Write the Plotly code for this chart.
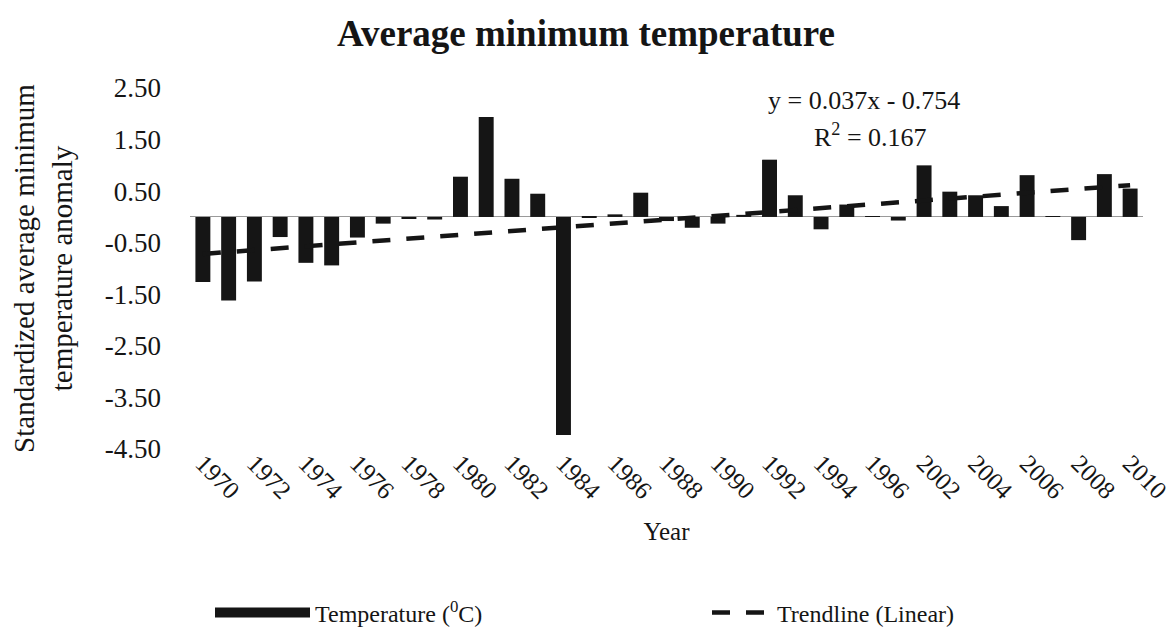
import plotly.graph_objects as go

years = [str(y) for y in range(1970, 1998)] + [str(y) for y in range(2002, 2011)]
anomaly = [-1.26, -1.62, -1.25, -0.39, -0.89, -0.94, -0.40, -0.13, -0.04, -0.05,
           0.78, 1.94, 0.74, 0.45, -4.23, -0.02, 0.05, 0.47, -0.08, -0.21,
           -0.13, 0.04, 1.11, 0.42, -0.24, 0.24, 0.01, -0.07, 1.00, 0.49,
           0.42, 0.21, 0.81, 0.01, -0.45, 0.83, 0.55]
trend_slope = 0.037
trend_intercept = -0.754
tick_labels = years[::2]
y_ticks = [2.5, 1.5, 0.5, -0.5, -1.5, -2.5, -3.5, -4.5]

trend = [trend_slope * (i + 1) + trend_intercept for i in range(len(years))]

FONT = "Liberation Serif"
INK = "#151515"
DASH = "18px,16px"

fig = go.Figure()
fig.add_trace(go.Bar(x=years, y=anomaly, marker=dict(color=INK, line=dict(width=0)),
                     showlegend=False, name="Temperature"))
fig.add_trace(go.Scatter(x=years, y=trend, mode="lines",
                         line=dict(color=INK, width=4.5, dash=DASH),
                         showlegend=False, name="Trendline (Linear)"))
# legend entries
fig.add_trace(go.Scatter(x=[None], y=[None], mode="lines",
                         line=dict(color=INK, width=20),
                         name="Temperature (<sup>0</sup>C)", legend="legend"))
fig.add_trace(go.Scatter(x=[None], y=[None], mode="lines",
                         line=dict(color=INK, width=4.5, dash=DASH),
                         name="Trendline (Linear)", legend="legend2"))

fig.add_annotation(text="y = 0.037x - 0.754", xref="paper", yref="paper",
                   x=(856 - 182) / 953, y=(441 - 92) / 361, xanchor="center", yanchor="middle",
                   showarrow=False, font=dict(family=FONT, size=26, color=INK))
fig.add_annotation(text="R<sup>2</sup> = 0.167", xref="paper", yref="paper",
                   x=(862 - 182) / 953, y=(441 - 128) / 361, xanchor="center", yanchor="middle",
                   showarrow=False, font=dict(family=FONT, size=26, color=INK))

legend_common = dict(orientation="h", xref="container", yref="container",
                     xanchor="left", yanchor="middle", y=1 - 605 / 630,
                     font=dict(family=FONT, size=24, color=INK), itemclick=False,
                     bgcolor="rgba(0,0,0,0)")

fig.update_layout(
    width=1175, height=630,
    margin=dict(l=182, r=40, t=80, b=189),
    paper_bgcolor="white", plot_bgcolor="white",
    font=dict(family=FONT, size=26, color=INK),
    title=dict(text="<b>Average minimum temperature</b>", x=578/1175, xanchor="center",
               y=1 - 25/630, yanchor="middle", font=dict(family=FONT, size=37, color=INK)),
    bargap=0.42,
    xaxis=dict(type="category", categoryorder="array", categoryarray=years,
               tickmode="array", tickvals=tick_labels, ticktext=tick_labels,
               tickangle=45, showgrid=False, showline=False, zeroline=False,
               ticks="", tickfont=dict(size=25), ticklabelstandoff=-6,
               title=dict(text="Year", font=dict(size=25), standoff=18)),
    yaxis=dict(range=[-4.5, 2.5], tickmode="array", tickvals=y_ticks,
               ticktext=["%.2f" % v for v in y_ticks], showgrid=False,
               zeroline=True, zerolinecolor="#9a9a9a", zerolinewidth=1,
               showline=False, ticks="", ticklabelstandoff=28, tickfont=dict(size=27),
               title=dict(text="Standardized average minimum<br>temperature anomaly",
                          font=dict(size=29), standoff=26)),
    legend=dict(x=202/1175, itemwidth=95, **legend_common),
    legend2=dict(x=699/1175, itemwidth=60, **legend_common),
)

fig.write_html("out.html")
